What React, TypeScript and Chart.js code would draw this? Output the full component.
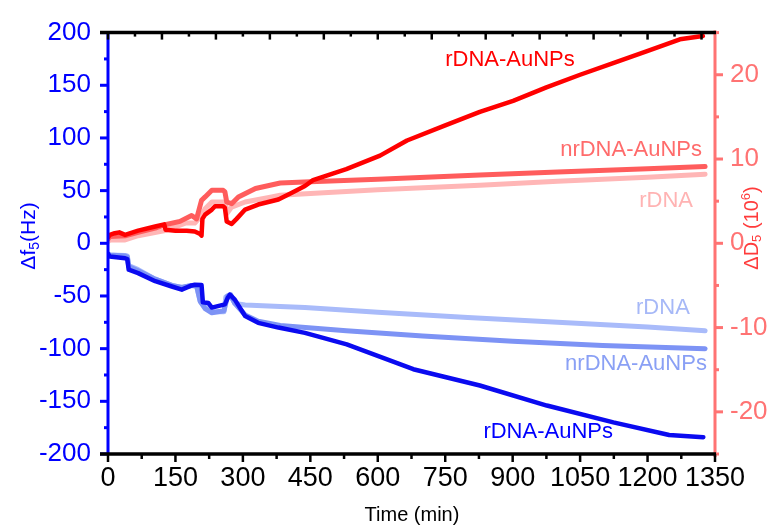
import React, { useEffect, useRef } from "react";
import { Chart, registerables } from "chart.js";

Chart.register(...registerables);

// ---------- Data ----------
// ΔD5 (10^-6), right axis
const T_D_RDNA_AU = [0, 4, 15, 25, 38, 67, 105, 125, 128, 150, 175, 193, 205, 208, 210, 216, 231, 238, 256, 260, 264, 275, 286, 305, 334, 379, 409, 438, 456, 530, 605, 665, 750, 827, 901, 975, 1050, 1125, 1199, 1272, 1323];
const D_RDNA_AU = [0.7, 1.0, 1.2, 1.3, 1.0, 1.5, 2.0, 2.25, 1.6, 1.5, 1.5, 1.4, 1.1, 0.9, 2.9, 3.4, 4.0, 4.4, 4.4, 4.2, 2.6, 2.3, 2.9, 4.0, 4.6, 5.2, 6.0, 6.8, 7.5, 8.8, 10.4, 12.2, 14.0, 15.6, 16.9, 18.5, 20.0, 21.4, 22.8, 24.2, 24.6];

const T_D_NRDNA_AU = [0, 4, 40, 67, 105, 127, 160, 186, 197, 208, 216, 231, 256, 260, 264, 275, 290, 328, 383, 450, 600, 827, 1000, 1200, 1328];
const D_NRDNA_AU = [0.5, 0.8, 0.9, 1.3, 1.8, 2.2, 2.6, 3.3, 2.9, 5.1, 5.5, 6.3, 6.3, 6.1, 4.9, 4.7, 5.5, 6.5, 7.15, 7.3, 7.6, 8.1, 8.45, 8.85, 9.1];

const T_D_RDNA = [0, 4, 38, 67, 127, 172, 193, 208, 216, 231, 256, 262, 264, 275, 305, 364, 383, 450, 600, 827, 1000, 1200, 1328];
const D_RDNA = [0.2, 0.4, 0.4, 0.9, 1.5, 2.4, 2.4, 3.3, 4.1, 4.9, 4.9, 4.5, 3.5, 4.3, 4.9, 5.5, 5.7, 5.9, 6.35, 6.9, 7.35, 7.85, 8.2];

// Δf5 (Hz), left axis
const T_F_RDNA_AU = [0, 4, 38, 43, 46, 67, 105, 142, 164, 186, 193, 208, 211, 223, 231, 260, 266, 271, 282, 305, 334, 379, 438, 531, 679, 827, 976, 1124, 1248, 1324];
const F_RDNA_AU = [-10, -12.6, -14.2, -15, -25, -28.3, -36, -41, -44, -40, -39.3, -39.5, -56, -56.6, -61, -58, -52, -48.8, -53.5, -69, -75.5, -80, -85, -96, -119.5, -135, -154, -170, -182, -184];

const T_F_NRDNA_AU = [0, 4, 38, 43, 46, 67, 105, 142, 164, 186, 197, 205, 216, 231, 258, 266, 273, 282, 305, 334, 383, 530, 700, 900, 1100, 1328];
const F_NRDNA_AU = [-10, -11, -12, -13, -22, -26, -34, -40, -42, -40, -40, -55, -62, -66, -64, -50, -49, -57, -68, -74, -78, -83, -88, -93, -97, -100];

const T_F_RDNA = [0, 4, 38, 43, 46, 67, 105, 142, 164, 186, 197, 205, 216, 231, 258, 262, 271, 282, 305, 383, 438, 600, 800, 1000, 1200, 1328];
const F_RDNA = [-10, -11, -11.5, -12, -21, -25, -34, -40, -42, -40, -41, -55, -60, -65, -65, -51, -49, -57, -58.5, -60, -61, -65.5, -70.5, -75, -79.5, -83];

// Axis ticks
const X_TICK_STEP = 150;
const X_MIN = 0;
const X_MAX = 1350;
const Y_TICKS = [-200, -150, -100, -50, 0, 50, 100, 150, 200];
const Y2_TICKS = [-20, -10, 0, 10, 20];

// Series labels
const LABEL_TEXT = ["rDNA-AuNPs", "nrDNA-AuNPs", "rDNA", "rDNA", "nrDNA-AuNPs", "rDNA-AuNPs"];
const LABEL_T = [894, 1321, 1301, 1294, 1332, 979];
const LABEL_V = [21.7, 11.1, 5.05, -61.7, -114.5, -179];
const LABEL_AXIS = ["y2", "y2", "y2", "y", "y", "y"];
const LABEL_ALIGN = ["center", "right", "right", "right", "right", "center"];
const LABEL_COLOR = ["#ff0000", "#ff6b6b", "#ffb3b3", "#a6b8f7", "#8aa0f5", "#0000ff"];

const zip = (ts: number[], vs: number[]) => ts.map((t, i) => ({ x: t, y: vs[i] }));

const FONT = "'Liberation Sans', Arial, sans-serif";
const BLUE = "#0000ff";
const SALMON = "#ff7373";

type Seg = { t: string; k?: "sub" | "sup" };

function drawRich(ctx: CanvasRenderingContext2D, segs: Seg[], cx: number, cy: number, size: number, color: string, rot: number) {
  ctx.save();
  ctx.translate(cx, cy);
  ctx.rotate(rot);
  ctx.fillStyle = color;
  ctx.textBaseline = "middle";
  ctx.textAlign = "left";
  const small = Math.round(size * 0.65);
  let total = 0;
  const widths = segs.map((s) => {
    ctx.font = `${s.k ? small : size}px ${FONT}`;
    const w = ctx.measureText(s.t).width;
    total += w;
    return w;
  });
  let x = -total / 2;
  segs.forEach((s, i) => {
    ctx.font = `${s.k ? small : size}px ${FONT}`;
    const dy = s.k === "sub" ? size * 0.28 : s.k === "sup" ? -size * 0.3 : 0;
    ctx.fillText(s.t, x, dy);
    x += widths[i];
  });
  ctx.restore();
}

const decor = {
  id: "decor",
  afterDraw(chart: any) {
    const { ctx, chartArea: a, scales } = chart;
    const x = scales.x, y = scales.y, y2 = scales.y2;
    const line = (x1: number, y1: number, x2: number, y2_: number) => {
      ctx.beginPath();
      ctx.moveTo(x1, y1);
      ctx.lineTo(x2, y2_);
      ctx.stroke();
    };
    ctx.save();
    // left axis
    ctx.strokeStyle = BLUE;
    ctx.lineWidth = 3;
    line(a.left, a.top, a.left, a.bottom);
    for (let v = -200; v <= 200; v += 25) {
      const py = y.getPixelForValue(v);
      line(a.left - (v % 50 === 0 ? 8 : 4), py, a.left, py);
    }
    // right axis
    ctx.strokeStyle = SALMON;
    line(a.right, a.top - 2, a.right, a.bottom + 3);
    for (let v = -25; v <= 25; v += 5) {
      const py = y2.getPixelForValue(v);
      line(a.right, py, a.right + (v % 10 === 0 ? 8 : 4), py);
    }
    // top & bottom
    ctx.strokeStyle = "#000";
    ctx.lineWidth = 3.5;
    line(a.left - 8, a.top, a.right + 1, a.top);
    line(a.left - 8, a.bottom, a.right + 1, a.bottom);
    ctx.lineWidth = 2.5;
    for (let t = X_MIN; t <= X_MAX; t += 75) {
      const px = x.getPixelForValue(t);
      line(px, a.bottom, px, a.bottom + (t % 150 === 0 ? 8 : 5));
    }
    for (let t = X_MIN; t <= X_MAX; t += 60) {
      const px = x.getPixelForValue(t);
      line(px, a.top, px, a.top + (t % 120 === 0 ? 7 : 4));
    }
    // series labels
    ctx.textBaseline = "middle";
    ctx.font = `22px ${FONT}`;
    LABEL_TEXT.forEach((txt, i) => {
      const sc = LABEL_AXIS[i] === "y" ? y : y2;
      ctx.fillStyle = LABEL_COLOR[i];
      ctx.textAlign = LABEL_ALIGN[i] as CanvasTextAlign;
      ctx.fillText(txt, x.getPixelForValue(LABEL_T[i]), sc.getPixelForValue(LABEL_V[i]));
    });
    ctx.restore();
    // axis titles
    drawRich(ctx, [{ t: "Δf" }, { t: "5", k: "sub" }, { t: "(Hz)" }], 29, 236, 21, BLUE, -Math.PI / 2);
    drawRich(ctx, [{ t: "ΔD" }, { t: "5", k: "sub" }, { t: " (10" }, { t: "6", k: "sup" }, { t: ")" }], 752, 228, 20, "#ff3b3b", -Math.PI / 2);
    drawRich(ctx, [{ t: "Time (min)" }], 412, 515, 20, "#000", 0);
  },
};

export default function App() {
  const ref = useRef<HTMLCanvasElement | null>(null);
  useEffect(() => {
    if (!ref.current) return;
    const mk = (label: string, ts: number[], vs: number[], color: string, axis: string, w: number) => ({
      label,
      data: zip(ts, vs),
      borderColor: color,
      backgroundColor: color,
      borderWidth: w,
      pointRadius: 0,
      tension: 0,
      fill: false,
      yAxisID: axis,
      borderJoinStyle: "round" as const,
      borderCapStyle: "round" as const,
    });
    const chart = new Chart(ref.current, {
      type: "line",
      data: {
        datasets: [
          mk("ΔD rDNA-AuNPs", T_D_RDNA_AU, D_RDNA_AU, "#ff0000", "y2", 4.5),
          mk("Δf rDNA-AuNPs", T_F_RDNA_AU, F_RDNA_AU, "#0a0af0", "y", 4.5),
          mk("ΔD nrDNA-AuNPs", T_D_NRDNA_AU, D_NRDNA_AU, "#ff5c5c", "y2", 5),
          mk("Δf nrDNA-AuNPs", T_F_NRDNA_AU, F_NRDNA_AU, "#7d93f5", "y", 5),
          mk("ΔD rDNA", T_D_RDNA, D_RDNA, "#ffb6b6", "y2", 5),
          mk("Δf rDNA", T_F_RDNA, F_RDNA, "#a9bbfa", "y", 5),
        ],
      },
      options: {
        animation: false,
        responsive: false,
        devicePixelRatio: 1,
        layout: { padding: { top: 28, left: 0, right: 0, bottom: 0 } },
        plugins: { legend: { display: false }, tooltip: { enabled: false } },
        scales: {
          x: {
            type: "linear",
            min: X_MIN,
            max: X_MAX,
            ticks: {
              stepSize: X_TICK_STEP,
              color: "#000",
              font: { size: 27, family: FONT },
              padding: 8,
              maxRotation: 0,
              autoSkip: false,
              callback: (v: any) => String(v),
            },
            grid: { display: false, drawTicks: false },
            border: { display: false },
            afterFit: (s: any) => { s.height = 72; },
          },
          y: {
            type: "linear",
            position: "left",
            min: -200,
            max: 200,
            afterBuildTicks: (s: any) => { s.ticks = Y_TICKS.map((v) => ({ value: v })); },
            ticks: { color: BLUE, font: { size: 26, family: FONT }, padding: 17, callback: (v: any) => String(v) },
            grid: { display: false, drawTicks: false },
            border: { display: false },
            afterFit: (s: any) => { s.width = 108; },
          },
          y2: {
            type: "linear",
            position: "right",
            min: -25,
            max: 25,
            afterBuildTicks: (s: any) => { s.ticks = Y2_TICKS.map((v) => ({ value: v })); },
            ticks: { color: SALMON, font: { size: 26, family: FONT }, padding: 15, callback: (v: any) => String(v) },
            grid: { display: false, drawTicks: false },
            border: { display: false },
            afterFit: (s: any) => { s.width = 68; },
          },
        },
      },
      plugins: [decor],
    } as any);
    return () => chart.destroy();
  }, []);
  return (
    <div style={{ position: "fixed", left: 0, top: 0, width: 783, height: 526, background: "#fff" }}>
      <canvas ref={ref} width={783} height={526} style={{ width: 783, height: 526, display: "block" }} />
    </div>
  );
}
